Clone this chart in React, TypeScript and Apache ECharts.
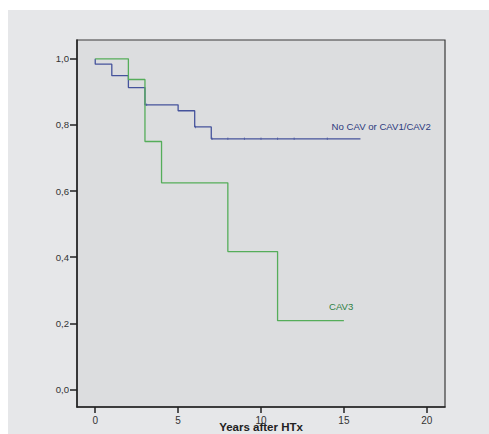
import React, { useEffect, useRef } from "react";
import * as echarts from "echarts";

const xTicks = [0, 5, 10, 15, 20];
const yTicks = [0, 0.2, 0.4, 0.6, 0.8, 1.0];

const blueTimes = [0, 0, 1, 2, 3, 5, 6, 7, 16];
const blueSurv = [1.0, 0.984, 0.949, 0.913, 0.861, 0.843, 0.794, 0.758, 0.758];
const blueCensorTimes = [3.1, 6.05, 7.05, 8, 9, 10, 11, 12, 14];
const blueCensorSurv = [0.861, 0.794, 0.758, 0.758, 0.758, 0.758, 0.758, 0.758, 0.758];

const greenTimes = [0, 2, 3, 4, 8, 11, 15];
const greenSurv = [1.0, 0.9375, 0.75, 0.625, 0.417, 0.208, 0.208];

const blueName = "No CAV or CAV1/CAV2";
const greenName = "CAV3";
const xName = "Years after HTx";

const BLUE = "#45539c";
const GREEN = "#55ad5a";

export default function App() {
  const ref = useRef<HTMLDivElement>(null);
  useEffect(() => {
    if (!ref.current) return;
    const chart = echarts.init(ref.current, undefined, { renderer: "svg" });
    const fmt = (v: number) => v.toFixed(1).replace(".", ",");
    chart.setOption({
      animation: false,
      backgroundColor: "#ffffff",
      textStyle: { fontFamily: "Liberation Sans, Arial, sans-serif" },
      graphic: [
        {
          type: "rect",
          z: -10,
          silent: true,
          shape: { x: 8, y: 10, width: 481, height: 424 },
          style: { fill: "#e6e7e9" },
        },
      ],
      grid: {
        left: 77,
        top: 40,
        right: 44,
        bottom: 27,
        outerBoundsMode: "none",
        containLabel: false,
        show: true,
        backgroundColor: "#dcdddf",
        borderColor: "#3a3a3a",
        borderWidth: 1.2,
      },
      xAxis: {
        type: "value",
        min: -1.1,
        max: 21.1,
        splitLine: { show: false },
        axisLine: { show: true, onZero: false, lineStyle: { color: "#222", width: 1.5 } },
        axisTick: { show: true, customValues: xTicks, length: 6, lineStyle: { color: "#222", width: 1.5 } },
        axisLabel: {
          customValues: xTicks,
          formatter: (v: number) => String(v),
          fontSize: 10,
          color: "#333",
          margin: 8,
        },
        name: xName,
        nameLocation: "middle",
        nameGap: 14,
        nameMoveOverlap: false,
        nameTextStyle: { fontSize: 11.5, fontWeight: "bold", color: "#222" },
      },
      yAxis: {
        type: "value",
        min: -0.053,
        max: 1.057,
        splitLine: { show: false },
        axisLine: { show: true, onZero: false, lineStyle: { color: "#222", width: 1.5 } },
        axisTick: { show: true, customValues: yTicks, length: 7, lineStyle: { color: "#222", width: 1.5 } },
        axisLabel: {
          customValues: yTicks,
          formatter: fmt,
          fontSize: 9.6,
          color: "#333",
          margin: 8,
        },
      },
      series: [
        {
          type: "line",
          name: blueName,
          step: "end",
          symbol: "none",
          lineStyle: { color: BLUE, width: 1.3 },
          data: blueTimes.map((t, i) => [t, blueSurv[i]]),
          markPoint: {
            symbol: "circle",
            symbolSize: 0,
            data: [
              {
                coord: [14.26, 0.795],
                label: {
                  show: true,
                  formatter: blueName,
                  position: "inside",
                  align: "left",
                  verticalAlign: "middle",
                  fontSize: 9.6,
                  color: "#2c3a7e",
                },
              },
            ],
          },
        },
        {
          type: "scatter",
          symbol: "rect",
          symbolSize: [1, 2.5],
          itemStyle: { color: "#5a66a8", opacity: 0.8 },
          data: blueCensorTimes.map((t, i) => [t, blueCensorSurv[i]]),
        },
        {
          type: "line",
          name: greenName,
          step: "end",
          symbol: "none",
          lineStyle: { color: GREEN, width: 1.3 },
          data: greenTimes.map((t, i) => [t, greenSurv[i]]),
          markPoint: {
            symbol: "circle",
            symbolSize: 0,
            data: [
              {
                coord: [14.1, 0.25],
                label: {
                  show: true,
                  formatter: greenName,
                  position: "inside",
                  align: "left",
                  verticalAlign: "middle",
                  fontSize: 9.6,
                  color: "#2f7f45",
                },
              },
            ],
          },
        },
      ],
    });
    return () => chart.dispose();
  }, []);
  return (
    <div
      ref={ref}
      style={{ position: "fixed", left: 0, top: 0, width: 489, height: 434 }}
    />
  );
}
